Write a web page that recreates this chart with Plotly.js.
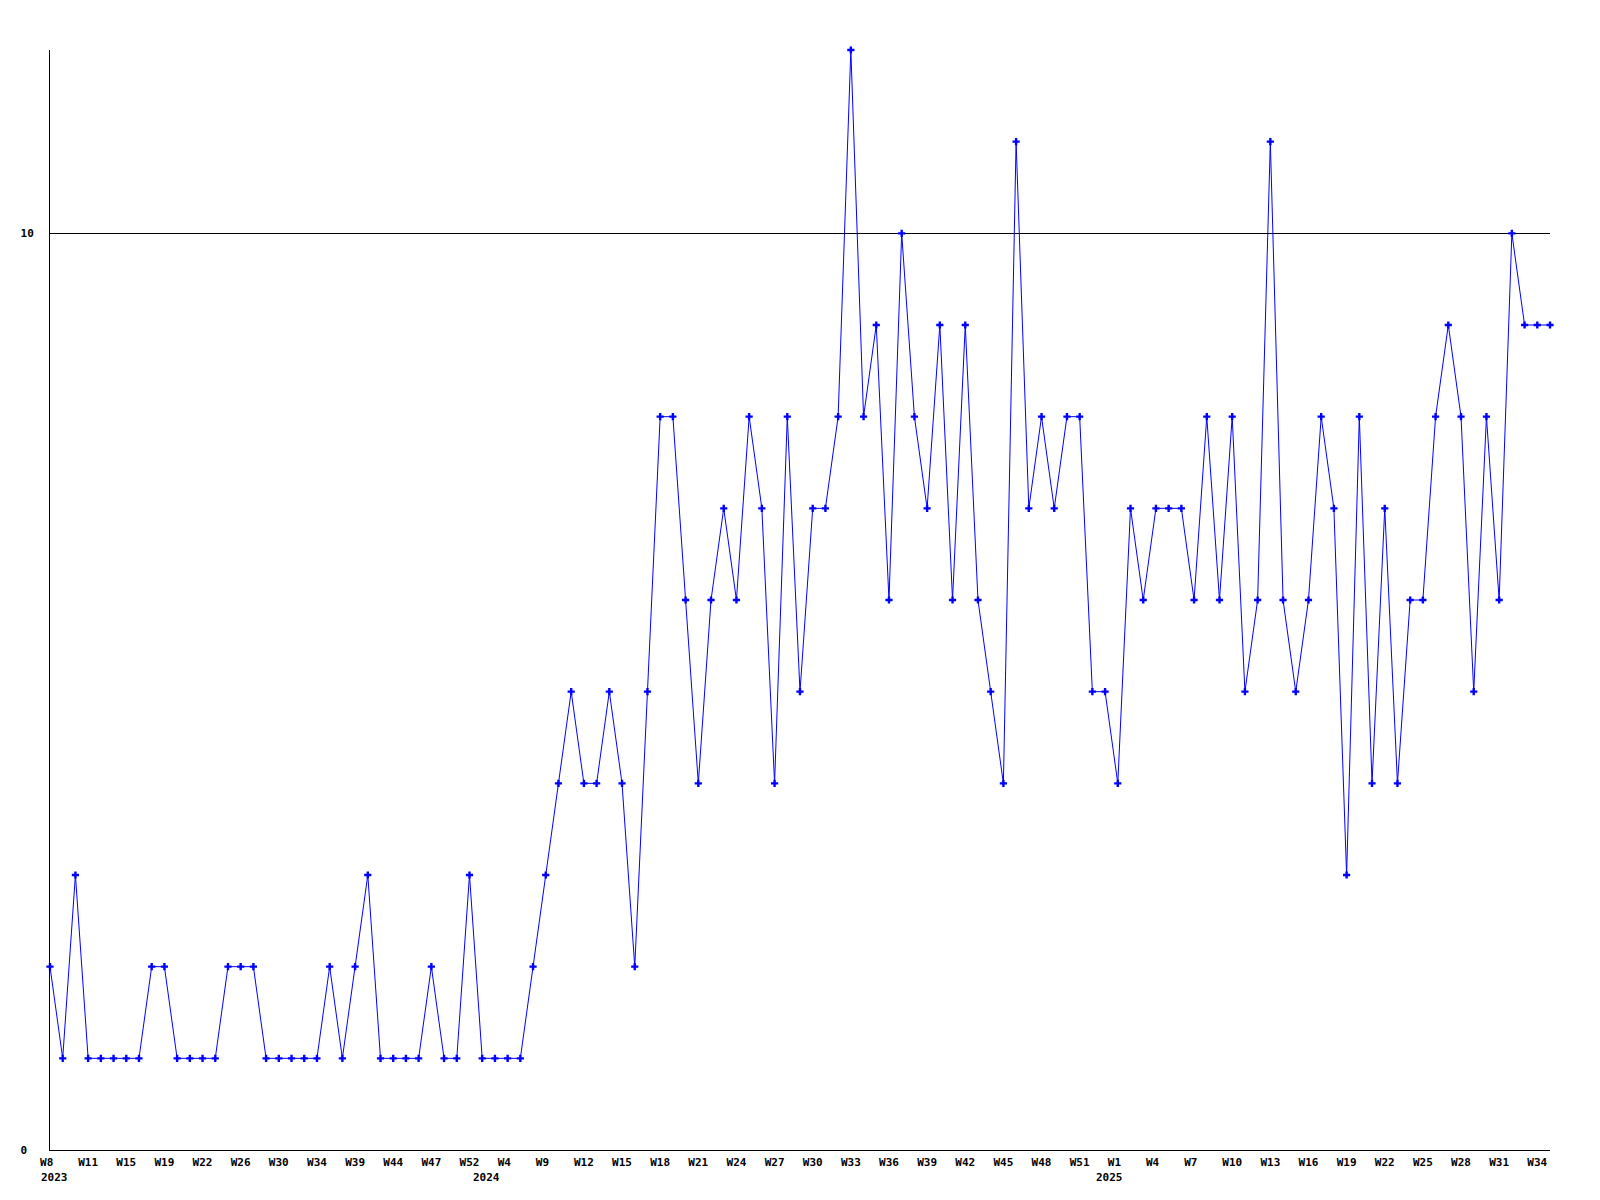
<!DOCTYPE html>
<html>
<head>
<meta charset="utf-8">
<script src="https://cdn.plot.ly/plotly-3.0.1.min.js"></script>
<style>html,body{margin:0;padding:0;background:#fff;}#chart{width:1600px;height:1200px;}</style>
</head>
<body>
<div id="chart"></div>
<script>
// Weekly counts, one value per plotted point (left to right)
var values = [
  2, 1, 3, 1, 1, 1, 1, 1, 2, 2,
  1, 1, 1, 1, 2, 2, 2, 1, 1, 1,
  1, 1, 2, 1, 2, 3, 1, 1, 1, 1,
  2, 1, 1, 3, 1, 1, 1, 1, 2, 3,
  4, 5, 4, 4, 5, 4, 2, 5, 8, 8,
  6, 4, 6, 7, 6, 8, 7, 4, 8, 5,
  7, 7, 8, 12, 8, 9, 6, 10, 8, 7,
  9, 6, 9, 6, 5, 4, 11, 7, 8, 7,
  8, 8, 5, 5, 4, 7, 6, 7, 7, 7,
  6, 8, 6, 8, 5, 6, 11, 6, 5, 6,
  8, 7, 3, 8, 4, 7, 4, 6, 6, 8,
  9, 8, 5, 8, 6, 10, 9, 9, 9
];

// Tick labels, one every third point
var tickLabels = [
  "W8", "W11", "W15", "W19", "W22", "W26", "W30", "W34", "W39", "W44", "W47", "W52",
  "W4", "W9", "W12", "W15", "W18", "W21", "W24", "W27", "W30", "W33", "W36", "W39",
  "W42", "W45", "W48", "W51",
  "W1", "W4", "W7", "W10", "W13", "W16", "W19", "W22", "W25", "W28", "W31", "W34"
];
var tickStep = 3;

// Year labels and the point index they sit under
var years = ["2023", "2024", "2025"];
var yearIndex = [0, 34, 83];

var yTickVals = [0, 10];
var yTickLabels = ["0", "10"];

var NBSP = "\u00a0";
function padRight(s, n) { while (s.length < n) { s += NBSP; } return s; }

var xIdx = values.map(function (v, i) { return i; });
var tickVals = tickLabels.map(function (t, i) { return i * tickStep; });
var tickText = tickLabels.map(function (t) { return padRight(t, 3); });
var yTickText = yTickLabels.map(function (t) { return padRight(t, 2); });

var fontFamily = "'DejaVu Sans Mono', 'Liberation Mono', monospace";

var trace = {
  x: xIdx,
  y: values,
  type: "scatter",
  mode: "lines+markers",
  line: { color: "#0000ff", width: 1 },
  marker: { symbol: "cross", size: 6, color: "#0000ff", line: { width: 0 } },
  hoverinfo: "skip",
  cliponaxis: false
};

var annotations = years.map(function (y, i) {
  return {
    text: y,
    x: yearIndex[i],
    xref: "x",
    y: 0,
    yref: "paper",
    yanchor: "top",
    xanchor: "center",
    yshift: -19,
    xshift: 4,
    showarrow: false,
    font: { family: fontFamily, size: 11, color: "#000", weight: "bold" }
  };
});

var layout = {
  width: 1600,
  height: 1200,
  margin: { l: 50, r: 50, t: 50, b: 50, pad: 0 },
  paper_bgcolor: "#fff",
  plot_bgcolor: "#fff",
  showlegend: false,
  xaxis: {
    range: [0, values.length - 1],
    tickmode: "array",
    tickvals: tickVals,
    ticktext: tickText,
    showgrid: false,
    zeroline: false,
    showline: true,
    linecolor: "#000",
    linewidth: 1,
    ticks: "",
    ticklen: 0,
    ticklabelstandoff: 2,
    tickangle: 0,
    tickfont: { family: fontFamily, size: 11, color: "#000", weight: "bold" },
    fixedrange: true
  },
  yaxis: {
    range: [0, 12],
    tickmode: "array",
    tickvals: yTickVals,
    ticktext: yTickText,
    showgrid: true,
    gridcolor: "#000",
    gridwidth: 1,
    zeroline: false,
    showline: true,
    linecolor: "#000",
    linewidth: 1,
    ticks: "",
    ticklen: 0,
    ticklabelstandoff: 13,
    tickfont: { family: fontFamily, size: 11, color: "#000", weight: "bold" },
    fixedrange: true
  },
  annotations: annotations
};

Plotly.newPlot("chart", [trace], layout, { staticPlot: true, displayModeBar: false });
</script>
</body>
</html>
